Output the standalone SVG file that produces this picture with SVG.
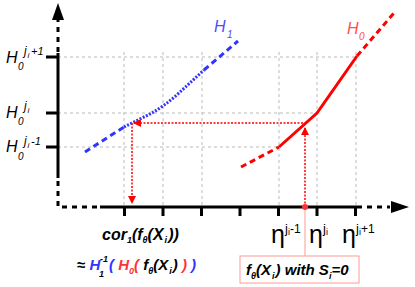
<svg xmlns="http://www.w3.org/2000/svg" width="415" height="287" viewBox="0 0 415 287">
<style>
.grid{stroke:#bbbbbb;stroke-width:1;stroke-dasharray:3,3;fill:none}
.ax{stroke:#000;stroke-width:3;fill:none}
.axd{stroke:#000;stroke-width:3;fill:none;stroke-dasharray:5,5}
.t{font-family:"Liberation Sans",Arial,sans-serif;font-style:italic;fill:#000}
.n{font-family:"Liberation Sans",Arial,sans-serif;fill:#000}
.b{font-weight:bold}
.blue{stroke:#3333ff;stroke-width:3;fill:none}
.red{stroke:#ff0000;stroke-width:3;fill:none}
.rdot{stroke:#ff0000;stroke-width:1.5;fill:none;stroke-dasharray:2,1.5}
</style>
<defs>
<marker id="ra" markerWidth="8" markerHeight="8" refX="7" refY="4" orient="auto" markerUnits="userSpaceOnUse">
<path d="M0,0 L8,4 L0,8 Z" fill="#ff0000"/>
</marker>
</defs>
<g id="grid">
<path class="grid" d="M58,57H357 M58,113H317 M58,147H279"/>
<path class="grid" d="M124,52V207 M163,52V207 M202,52V207 M279,52V207 M317,52V207 M356,52V207"/>
</g>
<g id="axes">
<path class="ax" d="M58,53V178 M100,207H357"/>
<path class="axd" d="M58,52V20 M58,181V207H100 M357,207H390"/>
<path d="M52,20L58,3L64,20Z" fill="#000"/>
<path d="M391,201L409,207L391,213Z" fill="#000"/>
<path class="ax" d="M46,57H58 M46,113H58 M46,147H58"/>
<path class="ax" d="M124.5,207V216 M163,207V216 M201.5,207V216 M240,207V216 M278.5,207V216 M317,207V216 M355.5,207V216"/>
</g>
<g id="H1">
<path class="blue" stroke-dasharray="6,4" d="M85,152L124,127"/>
<path class="blue" stroke-dasharray="2,1.5" d="M124,127L150,114Q165,106 180,92L204,70"/>
<path class="blue" stroke-dasharray="6,4" d="M204,70L238,41"/>
<text class="t" x="214" y="32" font-size="16" style="fill:#4d4dff">H<tspan x="227" y="38" font-size="10">1</tspan></text>
</g>
<g id="H0">
<path class="red" stroke-dasharray="6,4" d="M241,167L279,147"/>
<path class="red" d="M279,147L317,113L357,56"/>
<path class="red" stroke-dasharray="6,4" d="M357,56L394,13"/>
<text class="t" x="347" y="34" font-size="16" style="fill:#ff4d4d">H<tspan x="359" y="40" font-size="10">0</tspan></text>
</g>
<g id="connectors">
<path class="rdot" d="M303,123H134" marker-end="url(#ra)"/>
<path class="rdot" d="M132,123V203" marker-end="url(#ra)"/>
<path class="rdot" d="M305,207V128" marker-end="url(#ra)"/>
<circle cx="305" cy="207" r="3" fill="#ff3333"/>
<path d="M305,210V256" stroke="#ff9999" stroke-width="1" fill="none"/>
</g>
<g id="ylabels">
<text class="t" x="6" y="63" font-size="16">H<tspan x="18" y="70" font-size="10">0</tspan><tspan x="24" y="55" font-size="12">j</tspan><tspan x="27.5" y="58" font-size="8">i</tspan><tspan x="31" y="55" font-size="11">+1</tspan></text>
<text class="t" x="6" y="118" font-size="16">H<tspan x="18" y="125" font-size="10">0</tspan><tspan x="24" y="110" font-size="12">j</tspan><tspan x="27.5" y="113" font-size="8">i</tspan></text>
<text class="t" x="6" y="152" font-size="16">H<tspan x="18" y="160" font-size="10">0</tspan><tspan x="24" y="145" font-size="12">j</tspan><tspan x="27.5" y="148" font-size="8">i</tspan><tspan x="31" y="145" font-size="11">-1</tspan></text>
</g>
<g id="xlabels">
<text class="n" x="271" y="243" font-size="25">η</text>
<text class="n" x="285" y="233" font-size="13">j<tspan font-size="9" dy="2">i</tspan><tspan font-size="12" dy="-2">-1</tspan></text>
<text class="n" x="309" y="243" font-size="25">η</text>
<text class="n" x="323" y="233" font-size="13">j<tspan font-size="9" dy="2">i</tspan></text>
<text class="n" x="342" y="243" font-size="25">η</text>
<text class="n" x="356" y="233" font-size="13">j<tspan font-size="9" dy="2">i</tspan><tspan font-size="12" dy="-2">+1</tspan></text>
</g>
<g id="cor">
<text class="t b" x="102" y="240" font-size="16">cor<tspan font-size="9" dy="3">1</tspan><tspan dy="-3">(f</tspan><tspan font-size="9" dy="3">θ</tspan><tspan dy="-3">(X</tspan><tspan font-size="9" dy="3" dx="1">i</tspan><tspan dy="-3" dx="1">))</tspan></text>
<text class="t b" x="77" y="270" font-size="15"><tspan style="font-style:normal">≈ </tspan><tspan fill="#3333ff">H</tspan></text>
<text class="t b" x="100" y="262" font-size="9" fill="#3333ff">-1</text>
<text class="t b" x="99" y="277" font-size="9" fill="#3333ff">1</text>
<text class="t b" x="109" y="270" font-size="15"><tspan fill="#3333ff">(</tspan><tspan fill="#ff3333"> H</tspan><tspan fill="#ff3333" font-size="9" dy="4">0</tspan><tspan fill="#ff3333" dy="-4">(</tspan><tspan> f</tspan><tspan font-size="9" dy="4">θ</tspan><tspan dy="-4">(X</tspan><tspan font-size="9" dy="4" dx="1">i</tspan><tspan dy="-4" dx="1">)</tspan><tspan fill="#ff3333"> )</tspan><tspan fill="#3333ff"> )</tspan></text>
</g>
<g id="box">
<rect x="240" y="256" width="119" height="27" fill="#fff" stroke="#ff9999" stroke-width="1"/>
<text class="t b" x="246" y="275" font-size="15">f<tspan font-size="9" dy="4">θ</tspan><tspan dy="-4">(X</tspan><tspan font-size="9" dy="4" dx="1">i</tspan><tspan dy="-4" dx="1">) with S</tspan><tspan font-size="9" dy="4">i</tspan><tspan dy="-4">=0</tspan></text>
</g>
</svg>
